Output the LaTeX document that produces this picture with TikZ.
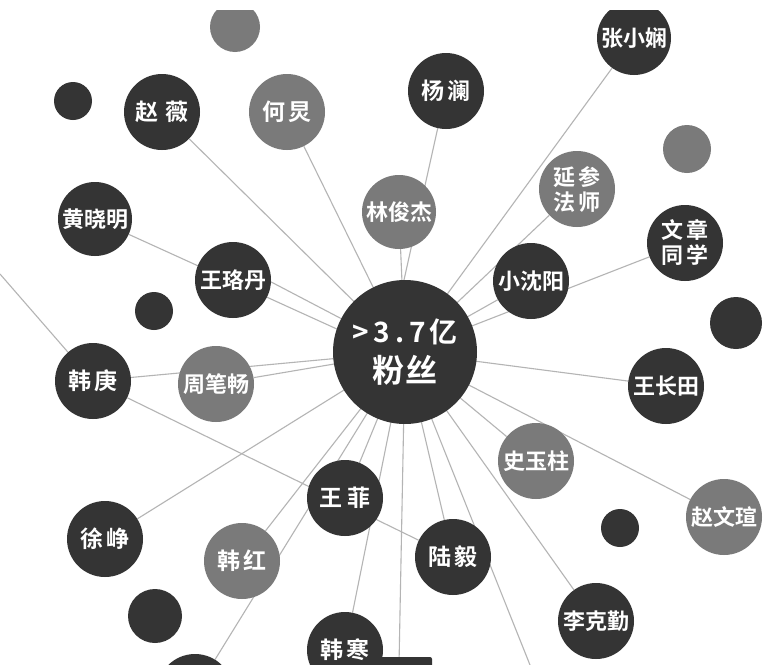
\documentclass[tikz,border=0pt]{standalone}
\usepackage{fontspec}
\newfontfamily\cjk{Noto Sans CJK SC}[BoldFont={Noto Sans CJK SC Bold}]
\usetikzlibrary{backgrounds,calc}
\definecolor{dkc}{RGB}{52,52,52}
\definecolor{gyc}{RGB}{122,122,122}
\definecolor{lnc}{RGB}{180,180,180}
\tikzset{
  dk/.style={circle, fill=dkc, inner sep=0pt, minimum size=76pt, text=white,
    font=\cjk\bfseries\fontsize{22}{25}\selectfont, align=center},
  gy/.style={dk, fill=gyc},
  two/.style={font=\cjk\bfseries\fontsize{23}{26}\selectfont},
  dotdk/.style={circle, fill=dkc, inner sep=0pt},
  dotgy/.style={circle, fill=gyc, inner sep=0pt},
  lk/.style={draw=lnc, line width=1.1pt},
}
\begin{document}
\begin{tikzpicture}[x=1pt,y=-1pt]
\useasboundingbox (0,0) rectangle (763,664);
\clip (0,10) rectangle (763,664);
% hub
\node[dk, minimum size=144pt] (hub) at (405,352)
  {{\fontsize{28}{32}\selectfont >\hspace{5pt}3\hspace{5pt}.\hspace{5pt}7\hspace{4pt}亿}\\[9pt]
   {\fontsize{32}{36}\selectfont 粉\hspace{2pt}丝}};
% named circles
\node[dk, two] (zhaowei) at (162,112) {赵\hspace{8pt}薇};
\node[gy, two] (hejiong) at (287,112) {何\hspace{4pt}炅};
\node[dk, minimum size=74pt] (huang) at (95,219) {黄晓明};
\node[dk] (wld) at (233,280) {王珞丹};
\node[gy, minimum size=74pt] (lin) at (399,212) {林俊杰};
\node[dk, two] (yanglan) at (446,91) {杨\hspace{3pt}澜};
\node[dk, minimum size=74pt] (zhang) at (634,38) {张小娴};
\node[gy] (yancan) at (577,189) {延\hspace{3pt}参\\法\hspace{3pt}师};
\node[dk] (wenzhang) at (685,243) {文\hspace{3pt}章\\同\hspace{3pt}学};
\node[dk] (xsy) at (531,281) {小沈阳};
\node[dk] (wct) at (666,386) {王长田};
\node[gy] (shi) at (536,461) {史玉柱};
\node[gy] (zwx) at (724,517) {赵文瑄};
\node[dk, two] (luyi) at (453,557) {陆\hspace{4pt}毅};
\node[dk] (likq) at (596,621) {李克勤};
\node[dk, two] (hangeng) at (93,381) {韩\hspace{4pt}庚};
\node[gy] (zhou) at (216,384) {周笔畅};
\node[dk, two] (wangfei) at (345,498) {王\hspace{6pt}菲};
\node[dk, two] (xu) at (105,539) {徐\hspace{4pt}峥};
\node[gy, two] (hanhong) at (242,561) {韩\hspace{4pt}红};
\node[dk, two] (hanhan) at (345,650) {韩\hspace{4pt}寒};
\node[dk] (botc) at (195,692) {};
% plain dots
\node[dotgy, minimum size=50pt] (dtop) at (235,27) {};
\node[dotdk, minimum size=38pt] (da) at (73,101) {};
\node[dotdk, minimum size=38pt] (db) at (154,311) {};
\node[dotgy, minimum size=48pt] (dc) at (687,149) {};
\node[dotdk, minimum size=52pt] (dd) at (736,323) {};
\node[dotdk, minimum size=38pt] (de) at (620,528) {};
\node[dotdk, minimum size=54pt] (df) at (155,616) {};
% bottom bar
\node[fill=dkc, inner sep=0pt, minimum width=66pt, minimum height=16pt, rounded corners=2pt] (bar) at (399,665) {};
\coordinate (offtl) at (0,274);
\coordinate (offbot) at (532,670);
% connectors
\begin{pgfonlayer}{background}
\fill[white] (0,0) rectangle (763,664);
\foreach \t in {zhaowei,hejiong,lin,zhang,yancan,xsy,wenzhang,wct,shi,zwx,likq,luyi,wangfei,hanhan,hanhong,botc,xu,zhou,hangeng,bar}
  \draw[lk] (hub.center) -- (\t);
\draw[lk] ($(hub.center)+(-17,0)$) -- (yanglan);
\draw[lk] ($(hub.center)+(0,8)$) -- (huang);
\draw[lk] (hub.center) -- ($(wld.center)+(0,-18)$);
\draw[lk] (hub.center) -- (offbot);
\draw[lk] (hangeng) -- (luyi);
\draw[lk] (offtl) -- (hangeng);
\end{pgfonlayer}
\end{tikzpicture}
\end{document}
